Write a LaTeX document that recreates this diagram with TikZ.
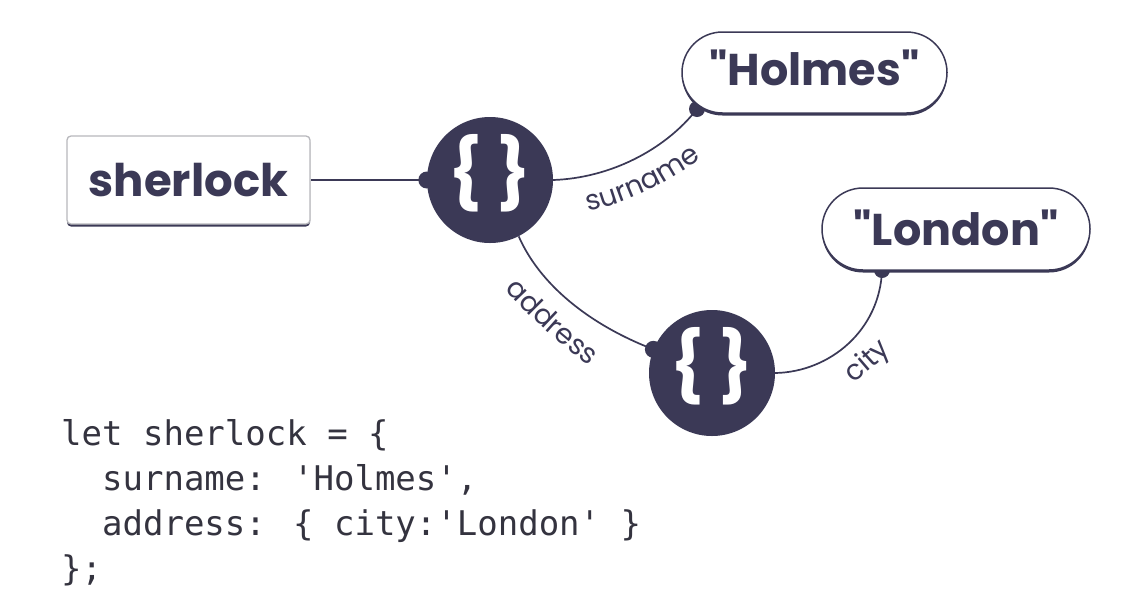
\documentclass[tikz,border=0pt]{standalone}
\usepackage{fontspec}
\usetikzlibrary{shapes.misc,decorations.text,shadows}
\newfontfamily\popfont{Poppins}
\newfontfamily\lblfont[LetterSpace=1]{Poppins}
\newfontfamily\codefont{DejaVu Sans Mono}
\definecolor{navy}{HTML}{3B3956}
\definecolor{codecol}{HTML}{34333F}
\definecolor{boxgray}{HTML}{B8B8BC}
\pgfdeclarelayer{bg}
\pgfsetlayers{bg,main}
\begin{document}
\begin{tikzpicture}[x=1pt,y=-1pt,
  conn/.style={draw=navy, line width=1.7pt},
  enddot/.style={fill=navy},
  objnode/.style={circle, fill=navy, minimum size=126pt, inner sep=0pt, text=white,
    font=\popfont\bfseries\fontsize{69}{69}\selectfont},
  valbox/.style={rounded rectangle, draw=navy, line width=1.5pt, fill=white, inner sep=0pt,
    text=navy, font=\popfont\bfseries\fontsize{44.5}{44.5}\selectfont,
    general shadow={fill=navy, shadow yshift=-2.5pt}},
  keybox/.style={rectangle, rounded corners=4pt, draw=boxgray, line width=1.3pt, fill=white,
    inner sep=0pt, text=navy, font=\popfont\bfseries\fontsize{45}{45}\selectfont,
    general shadow={fill=navy, shadow yshift=-2.5pt}},
  edgelbl/.style={decorate, decoration={text along path, text align=center, text color=navy}}
]
\begin{pgfonlayer}{bg}
\useasboundingbox[fill=white] (0,0) rectangle (1132,614);
\end{pgfonlayer}

% nodes
\node[keybox, minimum width=243pt, minimum height=88pt, text height=34pt, text depth=2pt]
  (sherlock) at (188.5,180) {sherlock};
\node[objnode, text height=50pt, text depth=16pt] (o1) at (490,180) {\{\hspace{14pt}\}};
\node[objnode, text height=50pt, text depth=16pt] (o2) at (712,373) {\{\hspace{14pt}\}};
\node[valbox, minimum width=265pt, minimum height=81pt, text height=32pt, text depth=7pt]
  (holmes) at (814.5,72.5) {\char34Holmes\char34};
\node[valbox, minimum width=268pt, minimum height=82pt, text height=32pt, text depth=0pt]
  (london) at (956,229) {\char34London\char34};
\coordinate (hdot) at (697,109);
\coordinate (ldot) at (882,270);

% connectors
\begin{pgfonlayer}{bg}
\draw[conn] (sherlock.east) -- (o1.west);
\fill[enddot] (o1.west) circle (8.5pt);
\draw[conn] (o1.east) .. controls (610,178) and (665,150) .. (hdot);
\fill[enddot] (hdot) circle (8pt);
\draw[conn] (o1.-63) .. controls (540,285) and (590,325) .. (o2.158);
\fill[enddot] (o2.158) circle (8.5pt);
\draw[conn] (o2.east) .. controls (830,372) and (880,330) .. (ldot);
\fill[enddot] (ldot) circle (8pt);
\end{pgfonlayer}

% edge labels
\path[edgelbl, decoration={text={|\lblfont\fontsize{28}{28}\selectfont|surname}}]
  (580,214) .. controls (625,203) and (670,185) .. (708,153);
\path[edgelbl, decoration={text={|\lblfont\fontsize{28}{28}\selectfont|address}}]
  (494,278) .. controls (525,312) and (560,348) .. (603,374);
\path[edgelbl, decoration={text={|\lblfont\fontsize{28}{28}\selectfont|city}}]
  (842,392) .. controls (862,378) and (883,360) .. (901,340);

% code
\node[anchor=base west, inner sep=0pt, align=left, text=codecol,
  font=\codefont\fontsize{34}{45}\selectfont] (code) at (61,580)
  {let sherlock = \{\\
   \phantom{xx}surname: \char39Holmes\char39,\\
   \phantom{xx}address: \{ city:\char39London\char39\ \}\\
   \};};
\end{tikzpicture}
\end{document}
